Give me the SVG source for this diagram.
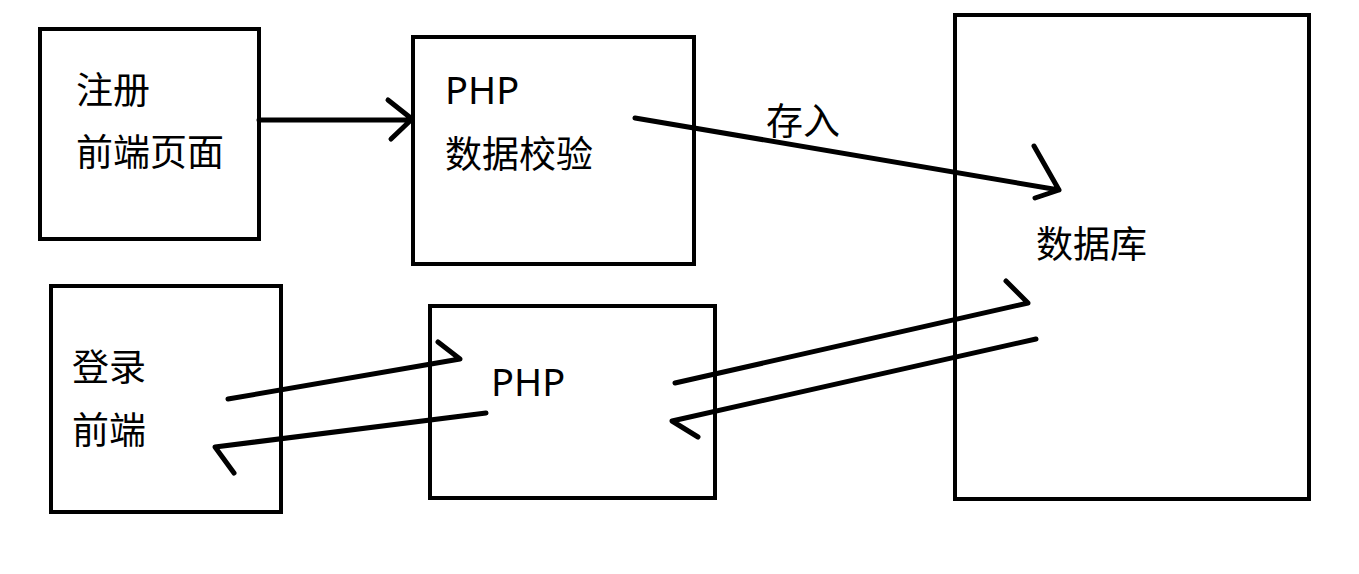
<svg xmlns="http://www.w3.org/2000/svg" width="1359" height="574" viewBox="0 0 1359 574">
<style>
.box{fill:none;stroke:#000;stroke-width:4}
.ln{fill:none;stroke:#000;stroke-width:5;stroke-linecap:round;stroke-linejoin:round}
text{font-family:"Noto Sans","Noto Sans CJK SC",sans-serif;font-size:37px;fill:#000}
.en{font-size:38px}
</style>
<rect width="1359" height="574" fill="#fff"/>
<g id="register">
<rect class="box" x="40" y="29" width="219" height="210"/>
<text x="76" y="104">注册</text>
<text x="76" y="166">前端页面</text>
</g>
<g id="php-validate">
<rect class="box" x="413" y="37" width="281" height="227"/>
<text class="en" x="445" y="104">PHP</text>
<text x="445" y="168">数据校验</text>
</g>
<g id="database">
<rect class="box" x="955" y="15" width="354" height="484"/>
<text x="1036" y="258">数据库</text>
</g>
<g id="login">
<rect class="box" x="51" y="286" width="230" height="226"/>
<text x="72" y="381">登录</text>
<text x="72" y="444">前端</text>
</g>
<g id="php">
<rect class="box" x="430" y="306" width="285" height="192"/>
<text class="en" x="491" y="396">PHP</text>
</g>
<g id="connectors">
<path class="ln" d="M259 120 H412 M388 100 L412 119 L391 139"/>
<path class="ln" d="M635 118 L1059 190 M1034 146 L1059 190 L1035 198"/>
<text x="766" y="135">存入</text>
<path class="ln" d="M228 399 L460 359 L438 342"/>
<path class="ln" d="M486 413 L215 447 L234 473"/>
<path class="ln" d="M675 383 L1028 303 L1006 281"/>
<path class="ln" d="M1036 339 L672 421 L698 437"/>
</g>
</svg>
